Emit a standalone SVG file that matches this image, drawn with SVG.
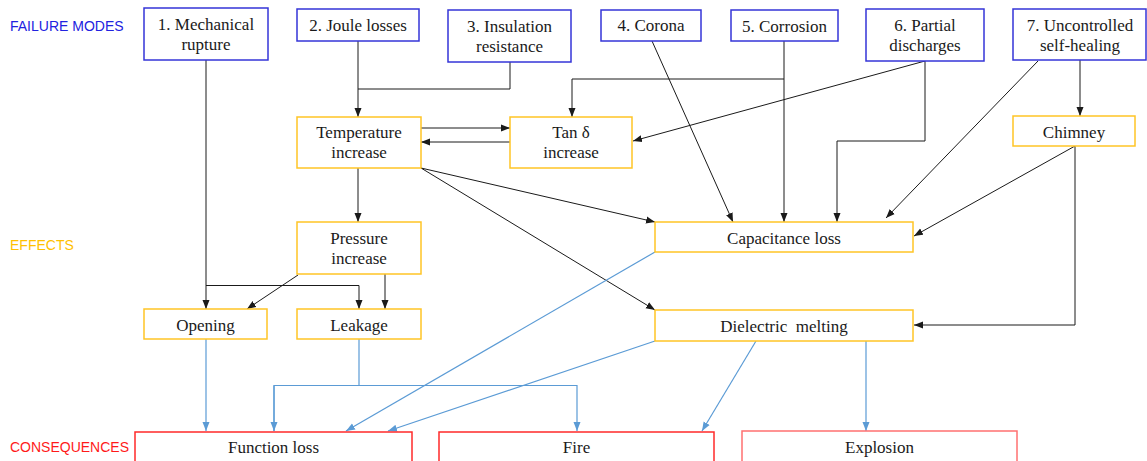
<svg xmlns="http://www.w3.org/2000/svg" width="1147" height="461" viewBox="0 0 1147 461">
  <style>
    .mode rect { fill: #ffffff; stroke: #3535d8; stroke-width: 1.5; }
    .effect rect { fill: #ffffff; stroke: #ffc526; stroke-width: 1.5; }
    .cons rect { fill: #ffffff; stroke: #ff2a2a; stroke-width: 1.5; }
    .cons rect.soft { stroke: #ff7070; }
    text.box { font-family: "Liberation Serif", "Times New Roman", serif; font-size: 17px; fill: #1a1a1a; text-anchor: middle; white-space: pre; }
    text.lane { font-family: "Liberation Sans", Arial, sans-serif; font-size: 14px; }
    .wire { fill: none; stroke: #1a1a1a; stroke-width: 1; }
    .wire-blue { fill: none; stroke: #5b9bd5; stroke-width: 1.2; }
  </style>
  <defs>
    <marker id="ah" markerUnits="userSpaceOnUse" markerWidth="10" markerHeight="8" refX="9" refY="4" orient="auto">
      <path d="M0,0.5 L9,4 L0,7.5 z" fill="#1a1a1a"/>
    </marker>
    <marker id="ahb" markerUnits="userSpaceOnUse" markerWidth="10" markerHeight="8" refX="9" refY="4" orient="auto">
      <path d="M0,0.5 L9,4 L0,7.5 z" fill="#5b9bd5"/>
    </marker>
  </defs>

  <rect width="1147" height="461" fill="#ffffff"/>

  <!-- lane titles -->
  <text class="lane" x="10" y="31" fill="#2222e0">FAILURE MODES</text>
  <text class="lane" x="10" y="250" fill="#ffc000">EFFECTS</text>
  <text class="lane" x="10" y="452" fill="#ff1a1a">CONSEQUENCES</text>

  <!-- connectors -->
  <g id="connectors">
    <!-- black: causes to effects -->
    <path class="wire" d="M206,60 V309" marker-end="url(#ah)"/>
    <path class="wire" d="M206,285.5 H359 V309" marker-end="url(#ah)"/>
    <path class="wire" d="M385,274 V309" marker-end="url(#ah)"/>
    <path class="wire" d="M298,275 L247,309" marker-end="url(#ah)"/>
    <path class="wire" d="M358,41 V117" marker-end="url(#ah)"/>
    <path class="wire" d="M510,62 V89 H358"/>
    <path class="wire" d="M421,128 H510" marker-end="url(#ah)"/>
    <path class="wire" d="M510,142 H421" marker-end="url(#ah)"/>
    <path class="wire" d="M784,41 V222" marker-end="url(#ah)"/>
    <path class="wire" d="M784,79 H572 V117" marker-end="url(#ah)"/>
    <path class="wire" d="M925,61 L633,141" marker-end="url(#ah)"/>
    <path class="wire" d="M925,61 V141 H837 V222" marker-end="url(#ah)"/>
    <path class="wire" d="M652,41 L733,222" marker-end="url(#ah)"/>
    <path class="wire" d="M1038,61 L886,218" marker-end="url(#ah)"/>
    <path class="wire" d="M1080,60 V116" marker-end="url(#ah)"/>
    <path class="wire" d="M1075,146 L914,236" marker-end="url(#ah)"/>
    <path class="wire" d="M1075,146 V325 H914" marker-end="url(#ah)"/>
    <path class="wire" d="M358,168 V222" marker-end="url(#ah)"/>
    <path class="wire" d="M421,168 L655,222" marker-end="url(#ah)"/>
    <path class="wire" d="M421,168 L655,310" marker-end="url(#ah)"/>

    <!-- blue: effects to consequences -->
    <path class="wire-blue" d="M206,339 V431" marker-end="url(#ahb)"/>
    <path class="wire-blue" d="M359,339 V385.5"/>
    <path class="wire-blue" d="M274,431 V385.5 H577 V431" marker-end="url(#ahb)"/>
    <path class="wire-blue" d="M274,385.5 V431" marker-end="url(#ahb)"/>
    <path class="wire-blue" d="M655,252 L346,431" marker-end="url(#ahb)"/>
    <path class="wire-blue" d="M655,341 L388,431" marker-end="url(#ahb)"/>
    <path class="wire-blue" d="M756,341 L702,431" marker-end="url(#ahb)"/>
    <path class="wire-blue" d="M866,341 V431" marker-end="url(#ahb)"/>
  </g>

  <!-- failure modes -->
  <g id="mode-1" class="mode">
    <rect x="144" y="8" width="124" height="52"/>
    <text class="box" x="206" y="30">1. Mechanical</text>
    <text class="box" x="206" y="50">rupture</text>
  </g>
  <g id="mode-2" class="mode">
    <rect x="297" y="9" width="122" height="32"/>
    <text class="box" x="358" y="31">2. Joule losses</text>
  </g>
  <g id="mode-3" class="mode">
    <rect x="448" y="10" width="123" height="52"/>
    <text class="box" x="509.5" y="32">3. Insulation</text>
    <text class="box" x="509.5" y="52">resistance</text>
  </g>
  <g id="mode-4" class="mode">
    <rect x="601" y="10" width="100" height="31"/>
    <text class="box" x="651" y="31">4. Corona</text>
  </g>
  <g id="mode-5" class="mode">
    <rect x="731" y="10" width="107" height="31"/>
    <text class="box" x="784.5" y="32">5. Corrosion</text>
  </g>
  <g id="mode-6" class="mode">
    <rect x="866" y="9" width="118" height="52"/>
    <text class="box" x="925" y="31">6. Partial</text>
    <text class="box" x="925" y="51">discharges</text>
  </g>
  <g id="mode-7" class="mode">
    <rect x="1013" y="9" width="133" height="51"/>
    <text class="box" x="1080" y="31">7. Uncontrolled</text>
    <text class="box" x="1080" y="51">self-healing</text>
  </g>

  <!-- effects -->
  <g id="temperature" class="effect">
    <rect x="297" y="117" width="124" height="51"/>
    <text class="box" x="359" y="138">Temperature</text>
    <text class="box" x="359" y="158">increase</text>
  </g>
  <g id="tan-delta" class="effect">
    <rect x="510" y="117" width="122" height="51"/>
    <text class="box" x="571" y="138">Tan δ</text>
    <text class="box" x="571" y="158">increase</text>
  </g>
  <g id="chimney" class="effect">
    <rect x="1013" y="116" width="122" height="30"/>
    <text class="box" x="1074" y="138">Chimney</text>
  </g>
  <g id="pressure" class="effect">
    <rect x="297" y="222" width="124" height="52"/>
    <text class="box" x="359" y="244">Pressure</text>
    <text class="box" x="359" y="264">increase</text>
  </g>
  <g id="opening" class="effect">
    <rect x="144" y="309" width="123" height="30"/>
    <text class="box" x="205.5" y="331">Opening</text>
  </g>
  <g id="leakage" class="effect">
    <rect x="297" y="309" width="124" height="30"/>
    <text class="box" x="359" y="331">Leakage</text>
  </g>
  <g id="capacitance" class="effect">
    <rect x="655" y="222" width="258" height="30"/>
    <text class="box" x="784" y="244">Capacitance loss</text>
  </g>
  <g id="melting" class="effect">
    <rect x="655" y="310" width="258" height="31"/>
    <text class="box" x="784" y="332">Dielectric  melting</text>
  </g>

  <!-- consequences -->
  <g id="function-loss" class="cons">
    <rect x="135" y="432" width="277" height="40"/>
    <text class="box" x="273.5" y="453">Function loss</text>
  </g>
  <g id="fire" class="cons">
    <rect x="439" y="432" width="275" height="40"/>
    <text class="box" x="576.5" y="453">Fire</text>
  </g>
  <g id="explosion" class="cons">
    <rect class="soft" x="742" y="431" width="275" height="40"/>
    <text class="box" x="879.5" y="453">Explosion</text>
  </g>
</svg>
